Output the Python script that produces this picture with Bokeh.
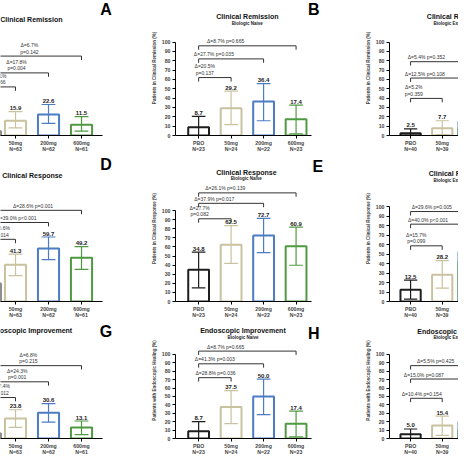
from bokeh.plotting import figure
from bokeh.layouts import row, column
from bokeh.models import Range1d, FixedTicker, Label, ColumnDataSource
from bokeh.embed import file_html
from bokeh.resources import INLINE
from bokeh.core.properties import value

FONT = "Liberation Sans"

# ---------------- data ----------------
groups = ["PBO", "50mg", "200mg", "600mg"]
group_colors = ["#1e1e1e", "#c9c29f", "#4b7cc4", "#4f9a41"]

n_all = [63, 63, 62, 61]
n_naive = [23, 24, 22, 23]
n_exp = [40, 39, 40, 38]

rem_all = [4.8, 15.9, 22.6, 11.5]
rem_all_lo = [0.3, 8.1, 13.0, 4.6]
rem_all_hi = [9.3, 25.5, 33.2, 20.3]
rem_all_txt = ["Δ=11.1%\np=0.066", "Δ=17.8%\np=0.004", "Δ=6.7%\np=0.142"]

rem_naive = [8.7, 29.2, 36.4, 17.4]
rem_naive_lo = [0.0, 11.6, 15.8, 1.8]
rem_naive_hi = [20.4, 47.4, 55.5, 32.6]
rem_naive_txt = ["Δ=20.5%\np=0.137", "Δ=27.7% p=0.035", "Δ=8.7% p=0.665"]

rem_exp = [2.5, 7.7, 15.0, 7.9]
rem_exp_lo = [0.0, 1.0, 4.0, 0.0]
rem_exp_hi = [7.0, 15.8, 26.3, 16.5]
rem_exp_txt = ["Δ=5.2%\np=0.359", "Δ=12.5% p=0.108", "Δ=5.4% p=0.352"]

resp_all = [20.6, 41.3, 59.7, 49.2]
resp_all_lo = [10.6, 29.0, 47.1, 36.2]
resp_all_hi = [30.6, 53.3, 72.5, 61.6]
resp_all_txt = ["Δ=20.6%\np=0.014", "Δ=39.0% p<0.001", "Δ=28.6% p=0.001"]

resp_naive = [34.8, 62.5, 72.7, 60.9]
resp_naive_lo = [15.0, 42.0, 53.7, 39.9]
resp_naive_hi = [54.3, 83.5, 91.5, 81.8]
resp_naive_txt = ["Δ=27.7%\np=0.082", "Δ=37.9% p=0.017", "Δ=26.1% p=0.139"]

resp_exp = [12.5, 28.2, 52.5, 42.1]
resp_exp_lo = [2.6, 14.0, 36.8, 26.5]
resp_exp_hi = [22.6, 43.0, 68.2, 57.7]
resp_exp_txt = ["Δ=15.7%\np=0.099", "Δ=40.0% p<0.001", "Δ=29.6% p=0.005"]

endo_all = [6.3, 23.8, 30.6, 13.1]
endo_all_lo = [0.3, 13.2, 19.5, 4.6]
endo_all_hi = [12.3, 34.2, 41.5, 20.8]
endo_all_txt = ["Δ=17.4%\np=0.012", "Δ=24.3%\np=0.001", "Δ=6.8%\np=0.215"]

endo_naive = [8.7, 37.5, 50.0, 17.4]
endo_naive_lo = [0.0, 17.8, 28.5, 2.0]
endo_naive_hi = [20.0, 57.0, 70.5, 32.6]
endo_naive_txt = ["Δ=28.8% p=0.036", "Δ=41.3% p=0.003", "Δ=8.7% p=0.665"]

endo_exp = [5.0, 15.4, 20.0, 10.5]
endo_exp_lo = [0.0, 3.8, 7.8, 0.8]
endo_exp_hi = [11.3, 26.5, 32.4, 20.2]
endo_exp_txt = ["Δ=10.4% p=0.154", "Δ=15.0% p=0.087", "Δ=5.5% p=0.425"]

titles = ["Clinical Remission", "Clinical Response", "Endoscopic Improvement"]
subtitles = [None, "Biologic Naive", "Biologic Experienced"]
ylabels = ["Patients in Clinical Remission (%)", "Patients in Clinical Response (%)",
           "Patients with Endoscopic Healing (%)"]
letters = ["A", "B", "", "D", "E", "", "G", "H", ""]
y_ticks = list(range(0, 101, 10))

# ---------------- layout (pixel geometry) ----------------
SPACING = 33.0  # px per category
COLS = [
    dict(width=148, left=0, px0=0, x0=0.545, x1=5.03, axis_end=3.64, yaxis=False),
    dict(width=214, left=24, px0=172, x0=-0.712, x1=5.045, axis_end=3.47, yaxis=True),
    dict(width=96, left=24, px0=386, x0=-0.667, x1=1.515, axis_end=3.5, yaxis=True),
]
# ref_top: reference y where the row starts; top: output y; f: vertical squeeze
ROWS = [dict(ref_top=0, top=0, f=1.0, height=155),
        dict(ref_top=159, top=155, f=1.0, height=167),
        dict(ref_top=326, top=322, f=136.0 / 148.0, height=136)]
# per panel (reference pixels): x-axis pixel, px per % unit, bracket heights,
# bracket text x (category units), title / subtitle / letter anchors
PANEL_LAYOUT = [
    dict(axis=138, scale=0.955, bh=[52, 67, 85], tx=[0.42, 1.03, 1.42],
         title=(62, 19.5, "right"), sub=None, letter=(105.5, 9.5)),
    dict(axis=138, scale=0.955, bh=[62, 82, 96], tx=[0.19, 0.47, 0.83],
         title=(245, 16, "center"), sub=(245, 23, "center"), letter=(312.5, 9.5)),
    dict(axis=138, scale=0.955, bh=[39.7, 61.5, 79], tx=[0.10, 0.45, 0.50],
         title=(425, 16, "left"), sub=(432, 24, "left"), letter=None),
    dict(axis=310, scale=0.92, bh=[69.9, 88.8, 102.5], tx=[0.52, 1.03, 1.53],
         title=(62, 180, "right"), sub=None, letter=(105.5, 168)),
    dict(axis=310, scale=0.94, bh=[91, 108, 119.5], tx=[0.03, 0.48, 0.82],
         title=(244, 176.7, "center"), sub=(244, 183, "center"), letter=(316.5, 170)),
    dict(axis=305, scale=0.95, bh=[58.6, 81.4, 94.7], tx=[0.18, 0.55, 0.67],
         title=(427, 177, "left"), sub=(432, 183.5, "left"), letter=None),
    dict(axis=457, scale=0.95, bh=[48.7, 67.4, 86.6], tx=[0.52, 1.05, 1.39],
         title=(71.7, 335, "right"), sub=None, letter=(105.5, 336)),
    dict(axis=457, scale=0.95, bh=[72.3, 88.8, 103.9], tx=[0.52, 0.50, 0.83],
         title=(240.5, 335, "center"), sub=(240.5, 343, "center"), letter=(312.5, 338)),
    dict(axis=457, scale=0.95, bh=[47.8, 70.7, 86.6], tx=[0.35, 0.42, 0.79],
         title=(415, 336, "left"), sub=(432, 343, "left"), letter=None),
]

PANEL_DATA = [
    (rem_all, rem_all_lo, rem_all_hi, rem_all_txt, n_all),
    (rem_naive, rem_naive_lo, rem_naive_hi, rem_naive_txt, n_naive),
    (rem_exp, rem_exp_lo, rem_exp_hi, rem_exp_txt, n_exp),
    (resp_all, resp_all_lo, resp_all_hi, resp_all_txt, n_all),
    (resp_naive, resp_naive_lo, resp_naive_hi, resp_naive_txt, n_naive),
    (resp_exp, resp_exp_lo, resp_exp_hi, resp_exp_txt, n_exp),
    (endo_all, endo_all_lo, endo_all_hi, endo_all_txt, n_all),
    (endo_naive, endo_naive_lo, endo_naive_hi, endo_naive_txt, n_naive),
    (endo_exp, endo_exp_lo, endo_exp_hi, endo_exp_txt, n_exp),
]


def make_panel(idx):
    ri, ci = divmod(idx, 3)
    col, rw, lay = COLS[ci], ROWS[ri], PANEL_LAYOUT[idx]
    vals, lo, hi, txt, ns = PANEL_DATA[idx]

    def oy(y):  # reference y -> output y
        return rw["top"] + (y - rw["ref_top"]) * rw["f"]

    axis_px = oy(lay["axis"])
    scale = lay["scale"] * rw["f"]
    y_end = (axis_px - rw["top"]) / scale
    mbb = int(round(rw["top"] + rw["height"] - axis_px))

    p = figure(width=col["width"], height=rw["height"],
               x_range=Range1d(col["x0"], col["x1"]), y_range=Range1d(0, y_end),
               output_backend="svg", toolbar_location=None,
               y_axis_location="left" if col["yaxis"] else None,
               min_border_left=col["left"], min_border_right=0,
               min_border_top=0, min_border_bottom=mbb)
    p.outline_line_color = None
    p.xgrid.visible = False
    p.ygrid.visible = False
    p.background_fill_color = "white"
    p.border_fill_color = "white"

    def dx(px):
        return col["x0"] + (px - col["px0"]) / SPACING

    def dy(py):
        return (axis_px - oy(py)) / scale

    # x axis
    xa = p.xaxis[0]
    xa.ticker = FixedTicker(ticks=[0, 1, 2, 3])
    xa.major_label_overrides = {i: f"{g}\nN={n}" for i, (g, n) in enumerate(zip(groups, ns))}
    xa.bounds = (col["x0"], col["axis_end"])
    xa.major_label_text_font = FONT
    xa.major_label_text_font_size = "5.2px"
    xa.major_label_text_font_style = "bold"
    xa.major_label_text_line_height = 1.15
    xa.major_label_standoff = 1
    xa.major_tick_out = 3
    xa.major_tick_in = 0
    xa.minor_tick_out = 0
    xa.minor_tick_in = 0
    xa.axis_line_color = "black"
    xa.axis_line_width = 1
    xa.major_tick_line_color = "black"

    if col["yaxis"]:
        ya = p.yaxis[0]
        ya.ticker = FixedTicker(ticks=y_ticks)
        ya.bounds = (0, 100)
        ya.axis_label = ylabels[ri]
        ya.axis_label_text_font = FONT
        ya.axis_label_text_font_size = "4.5px"
        ya.axis_label_text_font_style = "bold"
        ya.axis_label_standoff = 2
        ya.major_label_text_font = FONT
        ya.major_label_text_font_size = "5.2px"
        ya.major_label_text_font_style = "bold"
        ya.major_label_standoff = 2
        ya.major_tick_out = 3
        ya.major_tick_in = 0
        ya.minor_tick_out = 0
        ya.minor_tick_in = 0
        ya.axis_line_color = "black"
        ya.major_tick_line_color = "black"

    xs = list(range(len(groups)))
    src = ColumnDataSource(dict(
        x=xs, top=vals, lo=lo, hi=hi, color=group_colors,
        cl=[x - 0.21 for x in xs], cr=[x + 0.21 for x in xs],
        label=[f"{v:.1f}" for v in vals]))

    p.vbar(x="x", top="top", bottom=0, width=0.64, source=src,
           fill_color="white", line_color="color", line_width=2)
    p.segment(x0="x", y0="lo", x1="x", y1="hi", source=src, line_color="color", line_width=1.2)
    p.segment(x0="cl", y0="hi", x1="cr", y1="hi", source=src, line_color="color", line_width=1.2)
    p.segment(x0="cl", y0="lo", x1="cr", y1="lo", source=src, line_color="color", line_width=1.2)
    p.text(x="x", y="hi", text="label", source=src, text_align="center",
           text_baseline="bottom", y_offset=-1.5, text_color="#222222",
           text_font=value(FONT), text_font_size=value("6px"), text_font_style="bold")

    # comparison brackets
    drop = 4.0 / scale
    bx, by = [], []
    for k, h in enumerate(lay["bh"], start=1):
        bx.append([0, 0, k, k])
        by.append([h - drop, h, h, h - drop])
    p.multi_line(xs=bx, ys=by, line_color="#333333", line_width=1)
    p.text(x=lay["tx"], y=lay["bh"], text=txt, text_align="center", text_baseline="bottom",
           y_offset=-1.5, text_color="#333333", text_font=value(FONT),
           text_font_size=value("5px"), text_line_height=1.1)

    # titles and panel letter
    tx, ty, ta = lay["title"]
    p.add_layout(Label(x=dx(tx), y=dy(ty), text=titles[ri], text_align=ta,
                       text_baseline="middle", text_font=FONT, text_font_size="7px",
                       text_font_style="bold", text_color="#111111"))
    sub = subtitles[ci]
    if sub and lay["sub"]:
        sx, sy, sa = lay["sub"]
        p.add_layout(Label(x=dx(sx), y=dy(sy), text=sub, text_align=sa,
                           text_baseline="middle", text_font=FONT, text_font_size="4.5px",
                           text_font_style="bold", text_color="#222222"))
    if lay["letter"] and letters[idx]:
        lx, ly = lay["letter"]
        p.add_layout(Label(x=dx(lx), y=dy(ly), text=letters[idx], text_align="center",
                           text_baseline="middle", text_font=FONT, text_font_size="16px",
                           text_font_style="bold", text_color="black"))
    return p


figs = [make_panel(i) for i in range(9)]
layout = column(row(*figs[0:3]), row(*figs[3:6]), row(*figs[6:9]))

open("out.html", "w").write(file_html(layout, INLINE))
